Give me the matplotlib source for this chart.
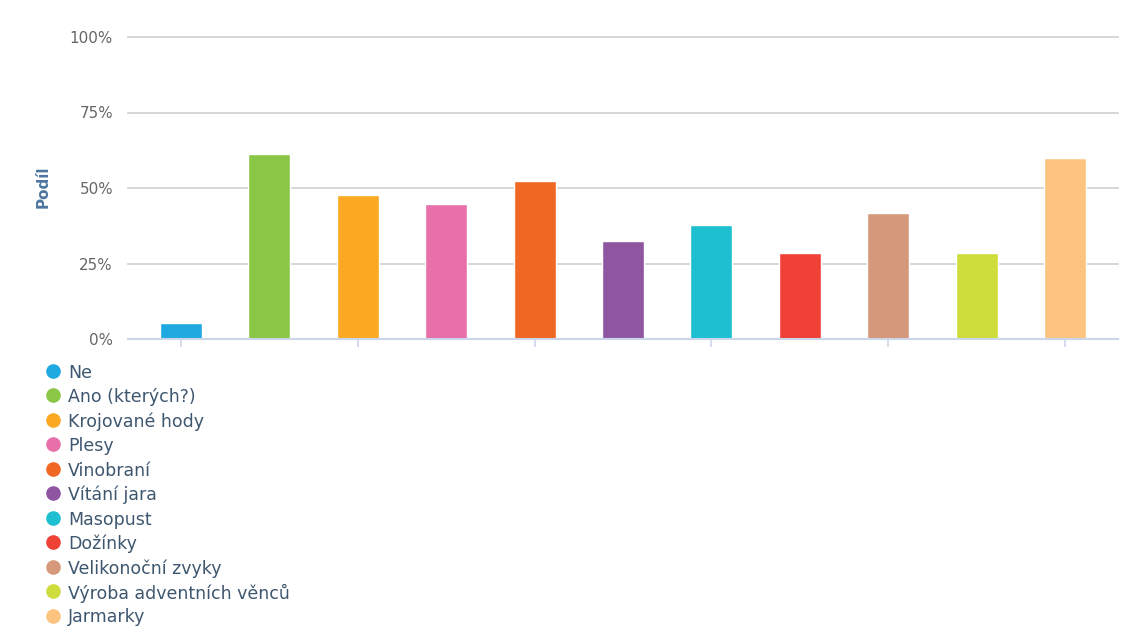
import matplotlib
matplotlib.use("Agg")
import matplotlib.pyplot as plt
from matplotlib.lines import Line2D

categories = ["Ne", "Ano (kterých?)", "Krojované hody", "Plesy", "Vinobraní",
              "Vítání jara", "Masopust", "Dožínky", "Velikonoční zvyky",
              "Výroba adventních věnců", "Jarmarky"]
values = [5.4, 61.2, 47.7, 44.6, 52.2, 32.3, 37.7, 28.4, 41.8, 28.4, 59.8]
colors = ["#1fa9e1", "#8bc646", "#fba922", "#e770ab", "#f06723", "#8e56a1",
          "#1dbfd0", "#ef4136", "#d6987a", "#cfdd3c", "#fcc47f"]
ytick_values = [0, 25, 50, 75, 100]
ytick_labels = ["0%", "25%", "50%", "75%", "100%"]

W, H = 1144, 630
fig = plt.figure(figsize=(W / 100, H / 100), dpi=100)
fig.patch.set_facecolor("white")

ax = fig.add_axes([128 / W, 1 - 339 / H, 990 / W, 302 / H])
x = list(range(len(categories)))
ax.bar(x, values, width=0.475, color=colors, edgecolor="white", linewidth=1, zorder=3)
ax.set_xlim(-0.6, 10.6)
ax.set_ylim(0, 100)

ax.set_yticks(ytick_values)
ax.set_yticklabels(ytick_labels)
ax.yaxis.grid(True, color="#cfcfcf", linewidth=1.2, zorder=1)
for gl in ax.get_ygridlines():
    gl.set_clip_on(False)
ax.tick_params(axis="y", length=0, pad=10.8, labelsize=10.9, labelcolor="#666666")
ax.set_xticks(x[::2])
ax.set_xticklabels([])
ax.tick_params(axis="x", length=6, width=1.2, color="#ccd6eb", direction="out")
for s in ["top", "right", "left"]:
    ax.spines[s].set_visible(False)
ax.spines["bottom"].set_color("#ccd6eb")
ax.spines["bottom"].set_linewidth(1.5)
ax.spines["bottom"].set_zorder(4)

fig.text(43 / W, 1 - 187 / H, "Podíl", rotation=90, fontsize=11,
         fontweight="bold", color="#4d759e", ha="center", va="center")

# legend
for i, (cat, col) in enumerate(zip(categories, colors)):
    yc = 371 + i * 24.45
    fig.add_artist(Line2D([52.5 / W], [1 - yc / H], marker="o", markersize=9.5,
                          color=col, linestyle="none", transform=fig.transFigure))
    fig.text(68 / W, 1 - yc / H, cat, fontsize=12.5, color="#3e576f",
             ha="left", va="center_baseline")

fig.savefig("out.png", dpi=100)
